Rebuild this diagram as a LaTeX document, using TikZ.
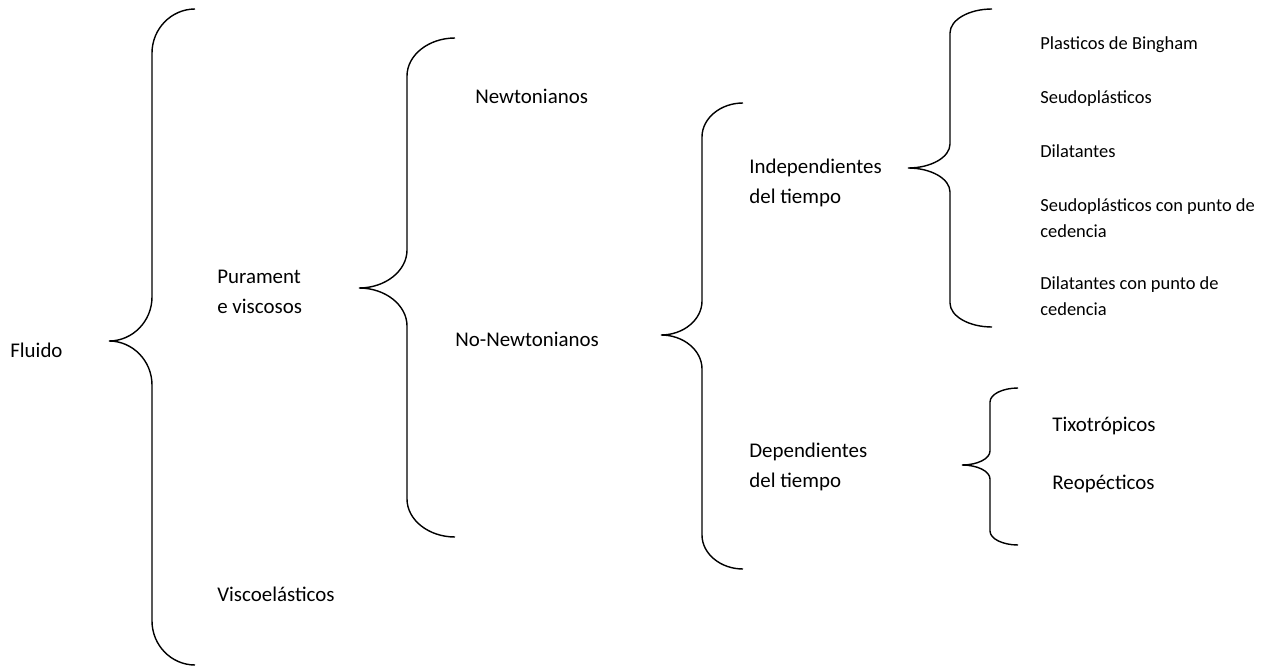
\documentclass[tikz,border=0pt]{standalone}
\usepackage{fontspec}
\setmainfont{Carlito}
\usepackage{tikz}

\begin{document}
\begin{tikzpicture} [x=0.02cm,y=-0.02cm,
  txt/.style={anchor=west, inner sep=0pt, align=left, font=\fontsize{11.9}{17}\selectfont},
  txtsm/.style={anchor=west, inner sep=0pt, align=left, font=\fontsize{10.5}{14.7}\selectfont}]
\useasboundingbox (0,0) rectangle (1264,672);

\foreach \xv/\w/\yt/\ym/\yb/\r in {152/43/9/341/665/44, 407/48/38/288/537/38, 702/41/103/335/569/34, 950/42/9/168/327/24, 990/28/388/465/545/14}
\draw[line width=0.8pt] (\xv+\w,\yt) .. controls +(-0.55*\w,0) and +(0,-0.55*\r) .. (\xv,\yt+\r) -- (\xv,\ym-\r) .. controls +(0,0.55*\r) and +(0.55*\w,0) .. (\xv-\w,\ym) .. controls +(0.55*\w,0) and +(0,-0.55*\r) .. (\xv,\ym+\r) -- (\xv,\yb-\r) .. controls +(0,0.55*\r) and +(-0.55*\w,0) .. (\xv+\w,\yb);

\node[txt] (fluido) at (10,350) {Fluido};
\node[txt] (pura) at (217,292) {Purament\\e viscosos};
\node[txt] (visco) at (217,594) {Viscoelásticos};

\node[txt] (newt) at (475,96) {Newtonianos};
\node[txt] (nonewt) at (455,339) {No-Newtonianos};

\node[txt] (indep) at (749,183) {Independientes\\del tiempo};
\node[txt] (dep) at (749,467) {Dependientes\\del tiempo};

\node[txtsm] (bingham) at (1040,45) {Plasticos de Bingham};
\node[txtsm] (seudo) at (1040,99) {Seudoplásticos};
\node[txtsm] (dilat) at (1040,151) {Dilatantes};
\node[txtsm] (seudoced) at (1040,218) {Seudoplásticos con punto de\\cedencia};
\node[txtsm] (dilatced) at (1040,296) {Dilatantes con punto de\\cedencia};

\node[txt] (tixo) at (1052,426) {Tixotrópicos};
\node[txt] (reo) at (1052,484) {Reopécticos};

\end{tikzpicture}
\end{document}
